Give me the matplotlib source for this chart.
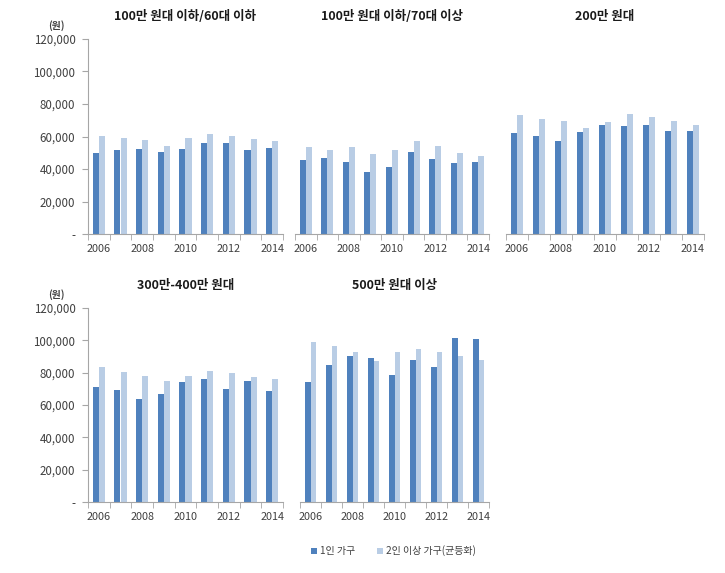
import matplotlib
matplotlib.use("Agg")
import matplotlib.pyplot as plt
import numpy as np
from matplotlib.ticker import FuncFormatter, FixedLocator

plt.rcParams["font.family"] = ["Noto Sans CJK KR", "DejaVu Sans"]

# -------------------------------
# data (원)
# -------------------------------
years = [2006, 2007, 2008, 2009, 2010, 2011, 2012, 2013, 2014]
year_labels = ["2006", "", "2008", "", "2010", "", "2012", "", "2014"]
series_names = ["1인 가구", "2인 이상 가구(균등화)"]

titles = [
    "100만 원대 이하/60대 이하",
    "100만 원대 이하/70대 이상",
    "200만 원대",
    "300만-400만 원대",
    "500만 원대 이상",
]

single_60 = [49700, 51800, 52400, 50300, 52400, 56100, 55700, 51800, 53000]
multi_60 = [60400, 59000, 58000, 54400, 59000, 61600, 60400, 58600, 57300]

single_70 = [45400, 46800, 44400, 38200, 41100, 50500, 46400, 43400, 44400]
multi_70 = [53600, 51600, 53600, 49300, 51800, 57100, 54200, 49900, 48100]

single_200 = [62100, 60400, 57300, 62900, 67200, 66200, 67000, 63300, 63500]
multi_200 = [73400, 70900, 69700, 65100, 69200, 73800, 72100, 69400, 67000]

single_300 = [70900, 69200, 63500, 66600, 74200, 75800, 69900, 74800, 68600]
multi_300 = [83200, 80700, 77700, 74600, 77900, 81000, 80100, 77300, 75800]

single_500 = [74000, 84700, 90200, 89000, 78500, 87700, 83800, 101700, 100700]
multi_500 = [99000, 96800, 92700, 87100, 92700, 94500, 92500, 90200, 88100]

panels = [
    (single_60, multi_60),
    (single_70, multi_70),
    (single_200, multi_200),
    (single_300, multi_300),
    (single_500, multi_500),
]

DARK = "#4F81BD"
LIGHT = "#B9CDE5"
AXIS_GRAY = "#A6A6A6"
TEXT = "#404040"

W, H = 725, 573
fig = plt.figure(figsize=(W / 100, H / 100), dpi=100)

# panel boxes in pixels: left, top, right, bottom
boxes = [
    (88, 39, 283, 234),
    (295, 39, 489, 234),
    (506, 39, 704, 234),
    (88, 308, 283, 502),
    (300, 308, 489, 502),
]


def px_axes(box):
    l, t, r, b = box
    return fig.add_axes([l / W, 1 - b / H, (r - l) / W, (b - t) / H])


def fmt(v, pos):
    if v == 0:
        return "-"
    return f"{int(v):,}"


x = np.arange(len(years))
bw = 0.28

for i, ((s1, s2), box, title) in enumerate(zip(panels, boxes, titles)):
    ax = px_axes(box)
    ax.bar(x - bw / 2, s1, width=bw, color=DARK, label=series_names[0])
    ax.bar(x + bw / 2, s2, width=bw, color=LIGHT, label=series_names[1])

    ax.set_xlim(-0.5, len(years) - 0.5)
    ax.set_ylim(0, 120000)

    for side in ["top", "right"]:
        ax.spines[side].set_visible(False)
    ax.spines["bottom"].set_color(AXIS_GRAY)

    # year labels under categories, tick marks at category boundaries
    ax.set_xticks(x)
    ax.set_xticklabels(year_labels, fontsize=7.8, color=TEXT)
    ax.tick_params(axis="x", which="major", length=0, pad=7)
    ax.xaxis.set_minor_locator(FixedLocator(np.arange(-0.5, len(years), 1)))
    ax.tick_params(axis="x", which="minor", length=4, color=AXIS_GRAY, direction="out")

    ax.set_yticks(np.arange(0, 120001, 20000))
    if i in (0, 3):
        ax.spines["left"].set_color(AXIS_GRAY)
        ax.yaxis.set_major_formatter(FuncFormatter(fmt))
        ax.tick_params(axis="y", length=4, color=AXIS_GRAY, labelsize=8.3,
                       labelcolor=TEXT, pad=5)
        ax.text(-0.16, 1.04, "(원)", transform=ax.transAxes, fontsize=7,
                fontweight="bold", color=TEXT, ha="center", va="bottom")
    else:
        ax.spines["left"].set_visible(False)
        ax.tick_params(axis="y", left=False, labelleft=False)

    ax.set_title(title, fontsize=9, fontweight="bold", color="#1a1a1a", pad=14)

handles, labels = ax.get_legend_handles_labels()
fig.legend(handles, labels, loc="center", bbox_to_anchor=(393 / W, 1 - 551 / H),
           ncol=2, frameon=False, fontsize=7.2, handlelength=0.6, handleheight=0.6,
           handletextpad=0.3, columnspacing=2.2, labelcolor=TEXT)

fig.savefig("out.png", dpi=100)
